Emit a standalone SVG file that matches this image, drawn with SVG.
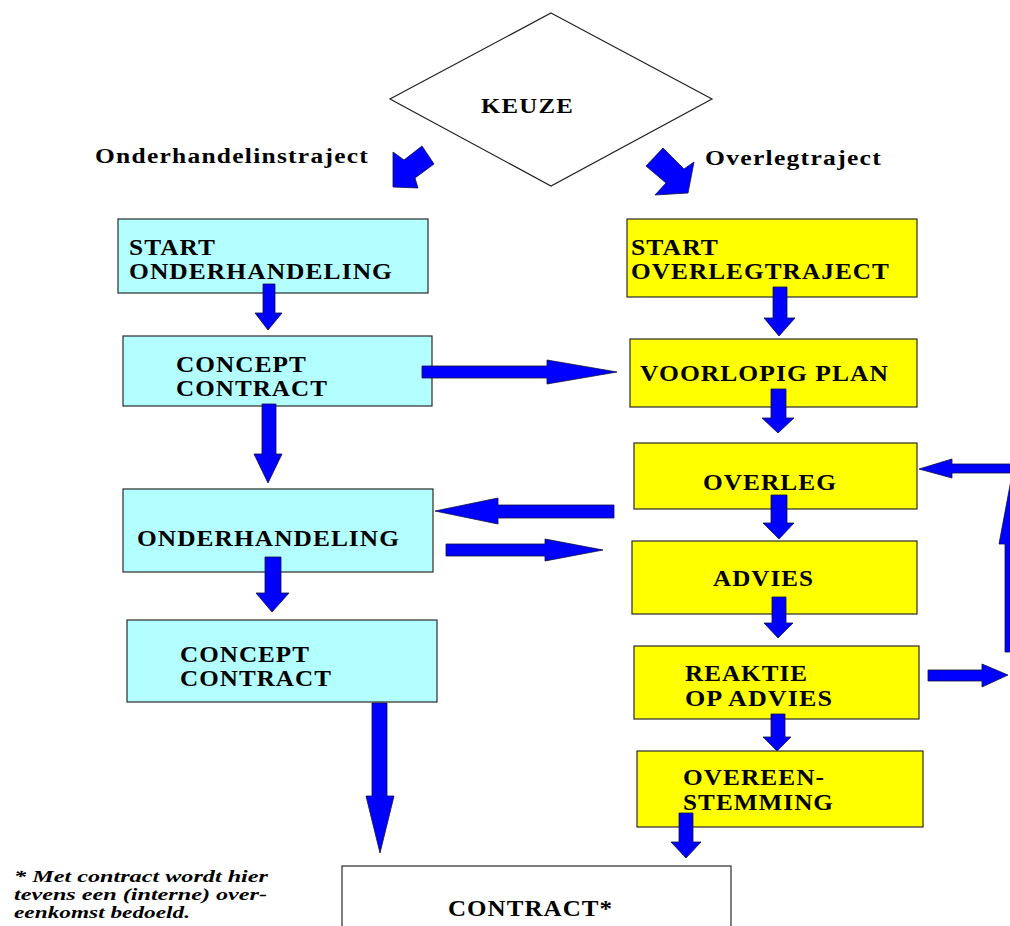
<svg xmlns="http://www.w3.org/2000/svg" width="1010" height="926" viewBox="0 0 1010 926">
<style>
.cy{fill:#B3FFFF;stroke:#2a2a2a;stroke-width:1.2}
.ye{fill:#FFFF00;stroke:#2a2a2a;stroke-width:1.2}
.wh{fill:#FFFFFF;stroke:#2a2a2a;stroke-width:1.2}
.t{font-family:"Liberation Serif","Times New Roman",serif;font-weight:bold;font-size:24px;letter-spacing:1px;fill:#000}
.lb{font-family:"Liberation Serif","Times New Roman",serif;font-weight:bold;font-size:20px;letter-spacing:1px;fill:#000}
.fn{font-family:"Liberation Serif","Times New Roman",serif;font-weight:bold;font-style:italic;font-size:17px;fill:#000}
.ar{fill:#0000FF;stroke:#101040;stroke-width:0.8;stroke-linejoin:miter}
</style>
<rect width="1010" height="926" fill="#FFFFFF"/>

<g id="keuze">
<polygon points="551,13 712,99 551,186 390,99" fill="#FFFFFF" stroke="#222" stroke-width="1.2"/>
<text class="lb" x="481" y="113" textLength="93" lengthAdjust="spacingAndGlyphs">KEUZE</text>
</g>

<g id="labels">
<text class="lb" x="95" y="163" textLength="274" lengthAdjust="spacingAndGlyphs">Onderhandelinstraject</text>
<text class="lb" x="705" y="165" textLength="177" lengthAdjust="spacingAndGlyphs">Overlegtraject</text>
</g>

<g id="start-onderhandeling">
<rect class="cy" x="118" y="219" width="310" height="74"/>
<text class="t" x="129" y="255" textLength="87" lengthAdjust="spacingAndGlyphs">START</text>
<text class="t" x="129" y="279" textLength="264" lengthAdjust="spacingAndGlyphs">ONDERHANDELING</text>
</g>

<g id="concept-contract-1">
<rect class="cy" x="123" y="336" width="309" height="70"/>
<text class="t" x="176" y="372" textLength="131" lengthAdjust="spacingAndGlyphs">CONCEPT</text>
<text class="t" x="176" y="396" textLength="152" lengthAdjust="spacingAndGlyphs">CONTRACT</text>
</g>

<g id="onderhandeling">
<rect class="cy" x="123" y="489" width="310" height="83"/>
<text class="t" x="137" y="546" textLength="263" lengthAdjust="spacingAndGlyphs">ONDERHANDELING</text>
</g>

<g id="concept-contract-2">
<rect class="cy" x="127" y="620" width="310" height="82"/>
<text class="t" x="180" y="662" textLength="130" lengthAdjust="spacingAndGlyphs">CONCEPT</text>
<text class="t" x="180" y="686" textLength="152" lengthAdjust="spacingAndGlyphs">CONTRACT</text>
</g>

<g id="start-overlegtraject">
<rect class="ye" x="627" y="219" width="290" height="78"/>
<text class="t" x="631" y="255" textLength="88" lengthAdjust="spacingAndGlyphs">START</text>
<text class="t" x="631" y="279" textLength="259" lengthAdjust="spacingAndGlyphs">OVERLEGTRAJECT</text>
</g>

<g id="voorlopig-plan">
<rect class="ye" x="630" y="339" width="287" height="68"/>
<text class="t" x="640" y="381" textLength="249" lengthAdjust="spacingAndGlyphs">VOORLOPIG PLAN</text>
</g>

<g id="overleg">
<rect class="ye" x="634" y="443" width="283" height="66"/>
<text class="t" x="703" y="490" textLength="134" lengthAdjust="spacingAndGlyphs">OVERLEG</text>
</g>

<g id="advies">
<rect class="ye" x="632" y="541" width="285" height="73"/>
<text class="t" x="713" y="586" textLength="101" lengthAdjust="spacingAndGlyphs">ADVIES</text>
</g>

<g id="reaktie">
<rect class="ye" x="634" y="646" width="285" height="73"/>
<text class="t" x="685" y="681" textLength="123" lengthAdjust="spacingAndGlyphs">REAKTIE</text>
<text class="t" x="685" y="706" textLength="148" lengthAdjust="spacingAndGlyphs">OP ADVIES</text>
</g>

<g id="overeenstemming">
<rect class="ye" x="637" y="751" width="286" height="76"/>
<text class="t" x="683" y="785" textLength="142" lengthAdjust="spacingAndGlyphs">OVEREEN-</text>
<text class="t" x="683" y="810" textLength="151" lengthAdjust="spacingAndGlyphs">STEMMING</text>
</g>

<g id="contract">
<rect class="wh" x="342" y="866" width="389" height="80"/>
<text class="t" x="448" y="916" textLength="165" lengthAdjust="spacingAndGlyphs">CONTRACT*</text>
</g>

<g id="footnote">
<text class="fn" x="14" y="882" textLength="254" lengthAdjust="spacingAndGlyphs">* Met contract wordt hier</text>
<text class="fn" x="14" y="900" textLength="253" lengthAdjust="spacingAndGlyphs">tevens een (interne) over-</text>
<text class="fn" x="14" y="918" textLength="176" lengthAdjust="spacingAndGlyphs">eenkomst bedoeld.</text>
</g>

<g id="connectors">
<polygon class="ar" points="393,152 404,160 422,146 434,164 415,178 418,188 393,187"/>
<polygon class="ar" points="646,166 663,148 684,169 694,162 688,193 655,195 666,183"/>

<polygon class="ar" points="263,284 275,284 275,313 282,313 268,330 255,313 263,313"/>
<polygon class="ar" points="262,404 276,404 276,454 282,454 268,483 254,454 262,454"/>
<polygon class="ar" points="265,557 281,557 281,593 289,593 272,612 256,593 265,593"/>
<polygon class="ar" points="372,703 387,703 387,796 394,796 380,853 366,796 372,796"/>

<polygon class="ar" points="773,287 787,287 787,318 795,318 779,336 764,318 773,318"/>
<polygon class="ar" points="771,389 786,389 786,418 794,418 778,433 762,418 771,418"/>
<polygon class="ar" points="771,495 787,495 787,523 794,523 779,539 763,523 771,523"/>
<polygon class="ar" points="772,597 786,597 786,623 793,623 778,638 764,623 772,623"/>
<polygon class="ar" points="771,714 785,714 785,737 791,737 777,751 763,737 771,737"/>
<polygon class="ar" points="679,813 693,813 693,842 701,842 686,858 671,842 679,842"/>

<polygon class="ar" points="422,366 547,366 547,360 617,372 547,384 547,378 422,378"/>
<polygon class="ar" points="614,505 498,505 498,498 435,511 498,524 498,518 614,518"/>
<polygon class="ar" points="446,544 545,544 545,539 603,550 545,561 545,556 446,556"/>
<polygon class="ar" points="928,670 982,670 982,664 1008,675 982,687 982,681 928,681"/>
<polygon class="ar" points="1005,652 1005,544 999,544 1011,480 1023,544 1017,544 1017,652"/>
<polygon class="ar" points="1014,464 952,464 952,459 919,469 952,478 952,473 1014,473"/>
</g>
</svg>
